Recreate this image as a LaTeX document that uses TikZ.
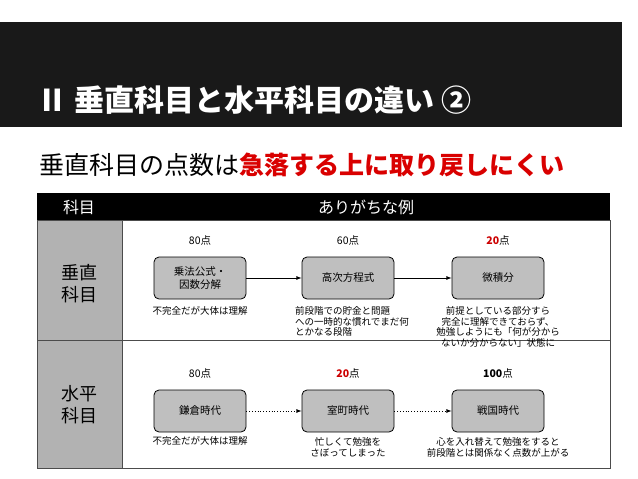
\documentclass[tikz,border=0pt]{standalone}
\usepackage{fontspec}
\setmainfont{Noto Sans CJK JP}
\usetikzlibrary{positioning}

\begin{document}
\begin{tikzpicture}[x=1pt, y=-1pt, >=latex,
		step_box/.style={rectangle,rounded corners=5pt,draw=black,thick,fill=black!25,minimum width=92pt,minimum height=42pt,font=\fontsize{10.5}{12.5}\selectfont,align=center},
		note_style/.style={font=\fontsize{9.5}{10.5}\selectfont,align=center},
		pts_style/.style={font=\fontsize{10.5}{12}\selectfont},
		edge_style/.style={draw=black,thick,->},
		dot_style/.style={draw=black,thick,dotted,->}]

		\useasboundingbox (0,0) rectangle (638,479);
		\fill[black!90] (0,22) rectangle (622,127);
		\node[anchor=base west,text=white,font=\bfseries\fontsize{30}{34}\selectfont] (title) at (34,111) {Ⅱ 垂直科目と水平科目の違い ②};
		\node[anchor=base west,font=\fontsize{25}{28}\selectfont] (sub) at (36,174) {垂直科目の点数は\textcolor{red!85!black}{\bfseries 急落する上に取り戻しにくい}};

		% table
		\fill[black] (37,193) rectangle (610,220);
		\fill[black!30] (37,220) rectangle (122,468);
		\draw[black!70] (37,220) rectangle (610,468);
		\draw[black!70] (37,340) -- (610,340);
		\draw[black!70] (122,220) -- (122,468);
		\node[text=white,font=\fontsize{16}{19}\selectfont] (h1) at (79,207) {科目};
		\node[text=white,font=\fontsize{16}{19}\selectfont] (h2) at (366,207) {ありがちな例};
		\node[font=\fontsize{18}{22}\selectfont,align=center] (r1) at (79,284) {垂直\\科目};
		\node[font=\fontsize{18}{22}\selectfont,align=center] (r2) at (79,405) {水平\\科目};

		% vertical row
		\node[pts_style] (p1) at (200,241) {80点};
		\node[pts_style] (p2) at (348,241) {60点};
		\node[pts_style] (p3) at (498,241) {\textcolor{red!80!black}{\bfseries 20}点};
		\node[step_box] (v1) at (200,278) {乗法公式・\\因数分解};
		\node[step_box] (v2) at (348,278) {高次方程式};
		\node[step_box] (v3) at (498,278) {微積分};
		\node[note_style] (n1) at (200,311) {不完全だが大体は理解};
		\node[note_style,align=left,anchor=north] (n2) at (352,303) {前段階での貯金と問題\\への一時的な慣れでまだ何\\とかなる段階};
		\node[note_style,anchor=north] (n3) at (498,303) {前提としている部分すら\\完全に理解できておらず、\\勉強しようにも「何が分から\\ないか分からない」状態に};
		\draw[edge_style] (v1) -- (v2);
		\draw[edge_style] (v2) -- (v3);

		% horizontal row
		\node[pts_style] (q1) at (200,374) {80点};
		\node[pts_style] (q2) at (348,374) {\textcolor{red!80!black}{\bfseries 20}点};
		\node[pts_style] (q3) at (498,374) {{\bfseries 100}点};
		\node[step_box] (h_1) at (200,411) {鎌倉時代};
		\node[step_box] (h_2) at (348,411) {室町時代};
		\node[step_box] (h_3) at (498,411) {戦国時代};
		\node[note_style] (m1) at (200,441) {不完全だが大体は理解};
		\node[note_style,anchor=north] (m2) at (348,434) {忙しくて勉強を\\さぼってしまった};
		\node[note_style,anchor=north] (m3) at (498,434) {心を入れ替えて勉強をすると\\前段階とは関係なく点数が上がる};
		\draw[dot_style] (h_1) -- (h_2);
		\draw[dot_style] (h_2) -- (h_3);

\end{tikzpicture}
\end{document}
